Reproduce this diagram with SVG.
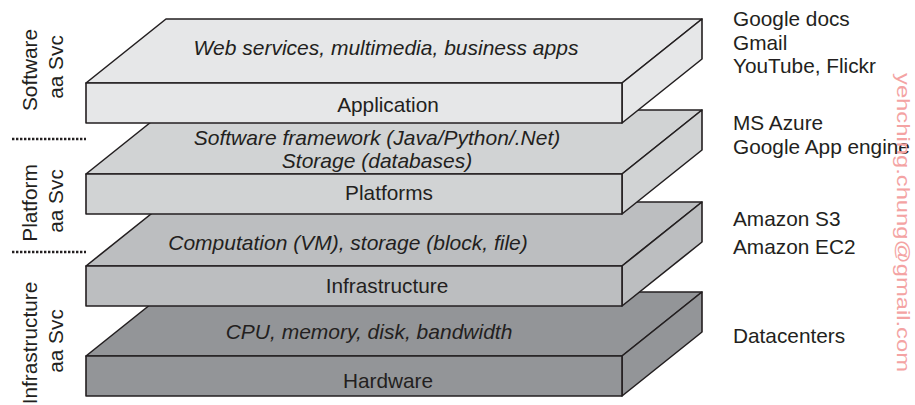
<svg xmlns="http://www.w3.org/2000/svg" width="915" height="405" viewBox="0 0 915 405">
<style>
.f{stroke:#231f20;stroke-width:1.6;stroke-linejoin:round}
.l1{fill:#e6e7e8}.l2{fill:#d1d3d4}.l3{fill:#bcbec0}.l4{fill:#939598}
text{font-family:"Liberation Sans",Arial,sans-serif;font-size:20.8px;fill:#231f20}
.i{font-style:italic;text-anchor:middle;font-size:21px}
.c{text-anchor:middle}
.dot{stroke:#231f20;stroke-width:2.4;stroke-dasharray:2.4,1.6;fill:none}
.wm{fill:#f4a3a3;font-size:19px}
</style>
<g id="hardware">
<polygon class="f l4" points="86,356 166,292 702,292 622,356"/>
<polygon class="f l4" points="622,356 702,292 702,332 622,396"/>
<rect class="f l4" x="86" y="356" width="536" height="40"/>
<text class="i" x="369" y="339">CPU, memory, disk, bandwidth</text>
<text class="c" x="388" y="388">Hardware</text>
</g>
<g id="infrastructure">
<polygon class="f l3" points="86,266 166,202 702,202 622,266"/>
<polygon class="f l3" points="622,266 702,202 702,242 622,306"/>
<rect class="f l3" x="86" y="266" width="536" height="40"/>
<text class="i" x="348" y="250">Computation (VM), storage (block, file)</text>
<text class="c" x="387" y="293">Infrastructure</text>
</g>
<g id="platforms">
<polygon class="f l2" points="86,174 166,110 702,110 622,174"/>
<polygon class="f l2" points="622,174 702,110 702,150 622,214"/>
<rect class="f l2" x="86" y="174" width="536" height="40"/>
<text class="i" x="377" y="145">Software framework (Java/Python/.Net)</text>
<text class="i" x="377" y="168">Storage (databases)</text>
<text class="c" x="389" y="200">Platforms</text>
</g>
<g id="application">
<polygon class="f l1" points="86,83 166,19 702,19 622,83"/>
<polygon class="f l1" points="622,83 702,19 702,59 622,123"/>
<rect class="f l1" x="86" y="83" width="536" height="40"/>
<text class="i" x="386" y="55">Web services, multimedia, business apps</text>
<text class="c" x="388" y="112">Application</text>
</g>
<g id="connectors">
<line class="dot" x1="12" y1="139" x2="86" y2="139"/>
<line class="dot" x1="12" y1="252" x2="86" y2="252"/>
</g>
<g id="saas-label">
<text class="c" transform="translate(37,70) rotate(-90)">Software</text>
<text class="c" transform="translate(63,67) rotate(-90)">aa Svc</text>
</g>
<g id="paas-label">
<text class="c" transform="translate(37,203) rotate(-90)">Platform</text>
<text class="c" transform="translate(63,201) rotate(-90)">aa Svc</text>
</g>
<g id="iaas-label">
<text class="c" transform="translate(37,343) rotate(-90)">Infrastructure</text>
<text class="c" transform="translate(63,341) rotate(-90)">aa Svc</text>
</g>
<g id="examples">
<text x="733" y="26">Google docs</text>
<text x="733" y="50">Gmail</text>
<text x="733" y="73">YouTube, Flickr</text>
<text x="733" y="130">MS Azure</text>
<text x="733" y="154">Google App engine</text>
<text x="733" y="226">Amazon S3</text>
<text x="733" y="254">Amazon EC2</text>
<text x="733" y="343">Datacenters</text>
</g>
<text class="wm" transform="translate(897,73) rotate(90)" textLength="299" lengthAdjust="spacingAndGlyphs">yehching.chung@gmail.com</text>
</svg>
